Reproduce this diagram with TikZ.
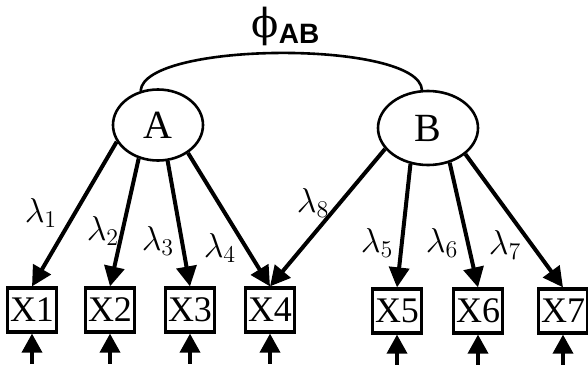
\documentclass[tikz,border=0pt]{standalone}
\usepackage{fontspec}
\setmainfont{Liberation Serif}
\setsansfont{Liberation Sans}
\newfontfamily\greekfont{DejaVu Serif}
\usetikzlibrary{arrows.meta,positioning,shapes.geometric}

\begin{document}
\begin{tikzpicture}[
    x=0.5pt, y=-0.5pt,
    latent/.style={draw, ellipse, line width=1.3pt, inner sep=0pt, font=\fontsize{20}{20}\selectfont},
    ind/.style={draw, rectangle, line width=1.6pt, inner sep=0pt, minimum width=24.5pt, minimum height=22pt, font=\fontsize{18}{18}\selectfont},
    load/.style={inner sep=0pt, font=\fontsize{18}{18}\selectfont},
    arrow/.style={-{Triangle[length=10pt,width=10pt]}, line width=2pt},
    err/.style={-{Triangle[length=9.5pt,width=10pt]}, line width=1.8pt},
    covar/.style={line width=1.3pt}
]
\useasboundingbox (0,0) rectangle (588,370);

% latent factors
\node[latent, minimum width=45pt, minimum height=35.5pt] (A) at (158,125) {A};
\node[latent, minimum width=50pt, minimum height=37pt] (B) at (428,128) {B};

% indicators
\node[ind] (X1) at (32,310) {X1};
\node[ind] (X2) at (110,310) {X2};
\node[ind] (X3) at (190,310) {X3};
\node[ind] (X4) at (270,310) {X4};
\node[ind] (X5) at (397,311) {X5};
\node[ind] (X6) at (478,311) {X6};
\node[ind] (X7) at (563,311) {X7};

% error terms
\coordinate[below=15pt of X1] (e1);
\coordinate[below=15pt of X2] (e2);
\coordinate[below=15pt of X3] (e3);
\coordinate[below=15pt of X4] (e4);
\coordinate[below=15pt of X5] (e5);
\coordinate[below=15pt of X6] (e6);
\coordinate[below=15pt of X7] (e7);

% labels
\node (phi) at (286,26) {\fontsize{20}{20}\selectfont{\greekfont ϕ}\textsubscript{\sffamily\bfseries AB}};
\node[load] (l1) at (41,213) {$\lambda_1$};
\node[load] (l2) at (103,231) {$\lambda_2$};
\node[load] (l3) at (158,241) {$\lambda_3$};
\node[load] (l4) at (220,248) {$\lambda_4$};
\node[load] (l5) at (377,243) {$\lambda_5$};
\node[load] (l6) at (442,243) {$\lambda_6$};
\node[load] (l7) at (505,245) {$\lambda_7$};
\node[load] (l8) at (313,203) {$\lambda_8$};

\draw[covar] (A.117) .. controls +(3,-50) and +(-3,-50) .. (B.99);

\draw[arrow] (A.202) -- (X1.north);
\draw[arrow] (A.240) -- (X2.north);
\draw[arrow] (A.285) -- (X3.north);
\draw[arrow] (A.317) -- (X4.north);
\draw[arrow] (B.206) -- (X4.north);
\draw[arrow] (B.244) -- (X5.north);
\draw[arrow] (B.302) -- (X6.north);
\draw[arrow] (B.325) -- (X7.north);

\draw[err] (e1) -- (X1);
\draw[err] (e2) -- (X2);
\draw[err] (e3) -- (X3);
\draw[err] (e4) -- (X4);
\draw[err] (e5) -- (X5);
\draw[err] (e6) -- (X6);
\draw[err] (e7) -- (X7);
\end{tikzpicture}
\end{document}
